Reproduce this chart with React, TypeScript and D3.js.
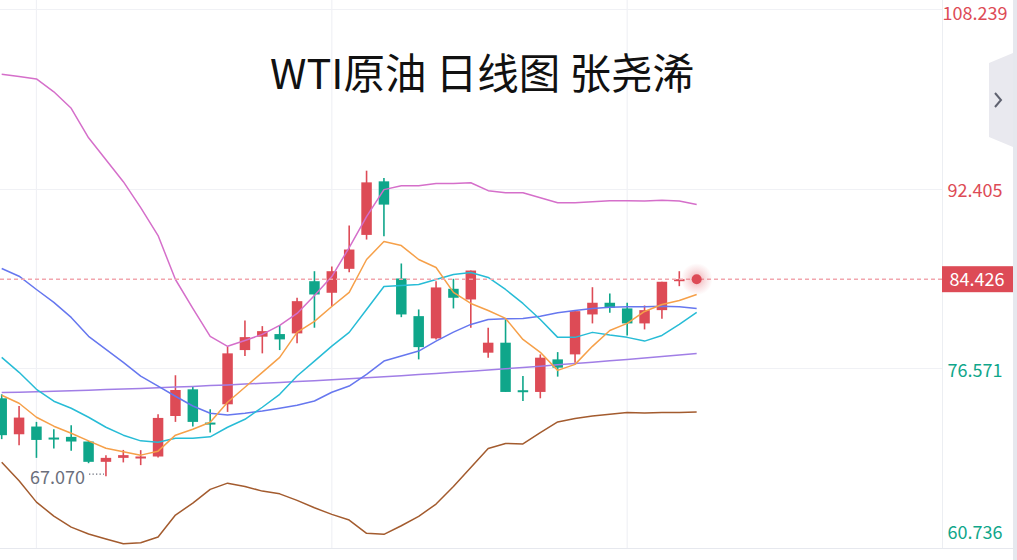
import { useEffect, useRef } from "react"
import * as d3 from "d3"

// daily candles, oldest first
const opens = [73.93, 70.76, 71.44, 70.47, 70.53, 70.12, 68.33, 68.68, 68.72, 68.8, 72.37, 74.72, 71.79, 73.4, 78.18, 79.36, 79.59, 79.65, 84.25, 83.23, 85.34, 88.33, 93.05, 84.49, 81.17, 79.21, 83.58, 82.64, 77.95, 78.83, 74.64, 74.49, 77.36, 77.8, 81.32, 82.35, 81.85, 80.53, 81.7, 84.31]
const highs = [74.28, 73.25, 71.85, 71.2, 71.56, 70.17, 68.92, 69.38, 69.36, 72.52, 75.96, 75.01, 72.96, 78.48, 80.79, 80.29, 80.38, 82.79, 85.13, 85.54, 89.15, 93.99, 93.35, 85.81, 81.76, 84.25, 84.46, 85.19, 80.15, 80.88, 75.89, 77.8, 78.0, 81.61, 83.72, 83.17, 82.35, 82.11, 84.2, 85.13]
const lows = [70.33, 69.8, 68.68, 69.51, 69.3, 68.21, 67.07, 68.28, 68.04, 68.72, 71.85, 71.44, 70.91, 72.73, 77.65, 77.89, 78.18, 78.77, 80.15, 82.05, 85.04, 87.92, 88.21, 81.08, 77.36, 79.12, 81.85, 80.15, 77.51, 74.49, 73.69, 73.93, 75.84, 77.07, 80.53, 81.47, 79.47, 80.0, 80.94, 83.81]
const closes = [70.68, 72.23, 70.26, 70.39, 70.12, 68.33, 68.68, 68.92, 68.8, 72.2, 74.66, 71.85, 71.62, 77.89, 79.32, 79.85, 79.12, 82.49, 83.08, 85.13, 87.04, 92.96, 91.0, 81.32, 78.44, 83.7, 82.79, 85.19, 78.83, 74.49, 74.52, 77.51, 76.63, 81.61, 82.35, 81.91, 80.53, 81.7, 84.2, 84.426]

// indicator lines (one extra point for the live bar)
const ma5 = [74.2, 73.49, 72.26, 71.47, 70.85, 70.18, 69.53, 69.21, 68.92, 69.27, 70.68, 71.2, 71.82, 73.58, 74.9, 76.22, 77.54, 79.74, 80.71, 82.02, 83.26, 86.16, 87.74, 87.39, 86.16, 85.46, 83.26, 82.29, 81.67, 80.97, 79.12, 77.98, 76.39, 76.92, 78.51, 79.91, 80.53, 81.58, 82.2, 82.55, 83.08]
const ma10 = [77.54, 76.22, 74.72, 73.67, 73.05, 72.26, 71.38, 70.68, 70.18, 70.06, 70.41, 70.41, 70.53, 71.38, 72.08, 73.14, 74.28, 75.89, 77.21, 78.53, 79.74, 81.76, 83.78, 83.87, 83.96, 84.4, 84.84, 85.02, 84.58, 83.52, 82.29, 80.88, 79.3, 79.3, 79.74, 79.5, 79.3, 78.97, 79.47, 80.44, 81.5]
const mid = [85.37, 84.69, 83.52, 82.38, 81.06, 79.39, 78.24, 77.1, 75.89, 75.01, 74.11, 73.25, 72.61, 72.46, 72.61, 72.81, 73.05, 73.32, 73.69, 74.46, 75.01, 76.04, 77.21, 77.65, 78.09, 78.97, 79.76, 80.44, 80.88, 80.94, 80.97, 81.17, 81.47, 81.67, 81.85, 81.96, 82.0, 82.0, 82.05, 82.0, 81.85]
const upper = [102.48, 102.28, 102.08, 100.94, 99.49, 96.89, 94.96, 93.02, 90.73, 88.27, 84.4, 81.85, 79.39, 78.51, 79.03, 79.56, 80.35, 81.41, 82.99, 84.66, 87.21, 89.94, 92.32, 92.67, 92.67, 92.85, 92.85, 92.93, 92.23, 92.05, 92.05, 91.61, 91.17, 91.17, 91.26, 91.35, 91.35, 91.31, 91.39, 91.31, 91.0]
const lower = [68.3, 66.66, 64.78, 63.55, 62.58, 61.97, 61.53, 61.11, 61.2, 61.7, 63.64, 64.69, 65.9, 66.45, 66.16, 65.75, 65.51, 64.93, 64.28, 63.7, 63.2, 62.03, 61.94, 62.7, 63.52, 64.61, 66.16, 67.84, 69.51, 69.95, 69.91, 70.91, 71.85, 72.15, 72.37, 72.52, 72.67, 72.64, 72.67, 72.67, 72.73]
const ma60 = [74.43, 74.47, 74.51, 74.56, 74.6, 74.64, 74.7, 74.75, 74.8, 74.86, 74.92, 74.98, 75.05, 75.11, 75.18, 75.25, 75.33, 75.4, 75.48, 75.56, 75.65, 75.73, 75.82, 75.92, 76.02, 76.11, 76.22, 76.32, 76.43, 76.54, 76.64, 76.76, 76.88, 76.99, 77.11, 77.23, 77.35, 77.49, 77.62, 77.75, 77.88]

const yTicks = [108.239, 92.405, 76.571, 60.736]
const gridBars = [2, 19, 36]
const lastPrice = 84.426
const lowPrice = 67.07
const lowBar = 6
const title = "WTI原油 日线图 张尧浠"

const UP = "#dd4b56"
const DOWN = "#0fa68a"

export default function App() {
  const svgRef = useRef<SVGSVGElement>(null)

  useEffect(() => {
    if (!svgRef.current) return
    const width = 1017
    const height = 560
    const plotRight = 942
    const svg = d3.select(svgRef.current)
    svg.selectAll("*").remove()

    const x = d3.scaleLinear().domain([0, 39]).range([1.7, 679.3])
    const y = d3.scaleLinear().domain([60.736, 108.239]).range([548, 9])
    const font = "'Noto Sans CJK SC', 'Noto Sans', sans-serif"

    svg.append("rect").attr("width", width).attr("height", height).attr("fill", "#fff")

    // grid
    svg
      .append("g")
      .selectAll("line")
      .data(yTicks)
      .enter()
      .append("line")
      .attr("x1", 0)
      .attr("x2", (d, i) => (i === yTicks.length - 1 ? width : plotRight))
      .attr("y1", (d) => Math.round(y(d)) + 0.5)
      .attr("y2", (d) => Math.round(y(d)) + 0.5)
      .attr("stroke", (d, i) => (i === yTicks.length - 1 ? "#e6e8ee" : "#f0f1f5"))
      .attr("stroke-width", 1.2)

    svg
      .append("g")
      .selectAll("line")
      .data(gridBars)
      .enter()
      .append("line")
      .attr("x1", (d) => x(d))
      .attr("x2", (d) => x(d))
      .attr("y1", 0)
      .attr("y2", y(60.736))
      .attr("stroke", "#f0f1f5")
      .attr("stroke-width", 1.2)

    // price axis panel
    svg
      .append("line")
      .attr("x1", plotRight + 0.5)
      .attr("x2", plotRight + 0.5)
      .attr("y1", 0)
      .attr("y2", y(60.736))
      .attr("stroke", "#eceef2")
    svg.append("rect").attr("x", 1013).attr("y", 0).attr("width", 4).attr("height", height).attr("fill", "#e6e8ee")

    // candles
    const candles = opens.map((o, i) => ({ i, o, h: highs[i], l: lows[i], c: closes[i] }))
    const bodyW = 10.5
    const cg = svg
      .append("g")
      .selectAll("g")
      .data(candles)
      .enter()
      .append("g")
      .attr("fill", (d) => (d.c >= d.o ? UP : DOWN))
      .attr("stroke", (d) => (d.c >= d.o ? UP : DOWN))
    cg.append("line")
      .attr("x1", (d) => x(d.i))
      .attr("x2", (d) => x(d.i))
      .attr("y1", (d) => y(d.h))
      .attr("y2", (d) => y(d.l))
      .attr("stroke-width", 1.6)
    cg.append("rect")
      .attr("x", (d) => x(d.i) - bodyW / 2)
      .attr("width", bodyW)
      .attr("y", (d) => y(Math.max(d.o, d.c)))
      .attr("height", (d) => Math.max(2, Math.abs(y(d.o) - y(d.c))))
      .attr("stroke", "none")

    // indicator lines
    const lines = [
      { data: ma60, color: "#a17ee6" },
      { data: lower, color: "#a35b2e" },
      { data: upper, color: "#d56fca" },
      { data: mid, color: "#6677ef" },
      { data: ma10, color: "#27bcd6" },
      { data: ma5, color: "#f6a049" },
    ]
    const line = d3
      .line<number>()
      .x((d, i) => x(i))
      .y((d) => y(d))
    lines.forEach((l) => {
      svg
        .append("path")
        .datum(l.data)
        .attr("d", line)
        .attr("fill", "none")
        .attr("stroke", l.color)
        .attr("stroke-width", 1.5)
        .attr("stroke-linejoin", "round")
    })

    // last price line + live dot
    const py = y(lastPrice)
    svg
      .append("line")
      .attr("x1", 0)
      .attr("x2", plotRight)
      .attr("y1", py)
      .attr("y2", py)
      .attr("stroke", "#f2a6ae")
      .attr("stroke-width", 1.5)
      .attr("stroke-dasharray", "4,3")

    const defs = svg.append("defs")
    const glow = defs.append("radialGradient").attr("id", "glow")
    glow.append("stop").attr("offset", "0%").attr("stop-color", UP).attr("stop-opacity", 0.45)
    glow.append("stop").attr("offset", "60%").attr("stop-color", UP).attr("stop-opacity", 0.15)
    glow.append("stop").attr("offset", "100%").attr("stop-color", UP).attr("stop-opacity", 0)
    const dotX = x(40)
    svg.append("circle").attr("cx", dotX).attr("cy", py).attr("r", 16).attr("fill", "url(#glow)")
    svg.append("circle").attr("cx", dotX).attr("cy", py).attr("r", 5).attr("fill", UP)

    // axis labels
    svg
      .append("g")
      .selectAll("text")
      .data(yTicks)
      .enter()
      .append("text")
      .attr("x", 975)
      .attr("y", (d, i) => (i === 0 ? 14 : i === yTicks.length - 1 ? 533 : y(d) + 2))
      .attr("dy", "0.35em")
      .attr("text-anchor", "middle")
      .attr("font-family", font)
      .attr("font-size", 18)
      .attr("fill", (d) => (d > lastPrice ? UP : DOWN))
      .text((d) => d.toFixed(3))

    svg
      .append("rect")
      .attr("x", plotRight)
      .attr("y", py - 13)
      .attr("width", 71)
      .attr("height", 26)
      .attr("fill", UP)
    svg
      .append("text")
      .attr("x", 977)
      .attr("y", py + 1)
      .attr("dy", "0.35em")
      .attr("text-anchor", "middle")
      .attr("font-family", font)
      .attr("font-size", 18)
      .attr("fill", "#fff")
      .text(lastPrice.toFixed(3))

    // lowest low marker
    const ly = y(lowPrice)
    svg
      .append("line")
      .attr("x1", 89)
      .attr("x2", x(lowBar) - 2)
      .attr("y1", ly - 2)
      .attr("y2", ly - 2)
      .attr("stroke", "#6b6f7c")
      .attr("stroke-width", 1.3)
      .attr("stroke-dasharray", "1.3,2.2")
    svg
      .append("text")
      .attr("x", 85)
      .attr("y", ly + 2)
      .attr("dy", "0.35em")
      .attr("text-anchor", "end")
      .attr("font-family", font)
      .attr("font-size", 18)
      .attr("fill", "#6b6f7c")
      .text(lowPrice.toFixed(3))

    // title
    svg
      .append("text")
      .attr("x", 482)
      .attr("y", 89)
      .attr("text-anchor", "middle")
      .attr("font-family", font)
      .attr("font-size", 41.5)
      .attr("fill", "#111")
      .text(title)

    // collapse tab
    svg
      .append("polygon")
      .attr("points", "989,63 1013,53 1013,147 989,137")
      .attr("fill", "#e9e9ef")
    svg
      .append("path")
      .attr("d", "M995,93 L1001,100 L995,107")
      .attr("fill", "none")
      .attr("stroke", "#5f6270")
      .attr("stroke-width", 2)
  }, [])

  return <svg ref={svgRef} width={1017} height={560} style={{ position: "absolute", left: 0, top: 0 }} />
}
